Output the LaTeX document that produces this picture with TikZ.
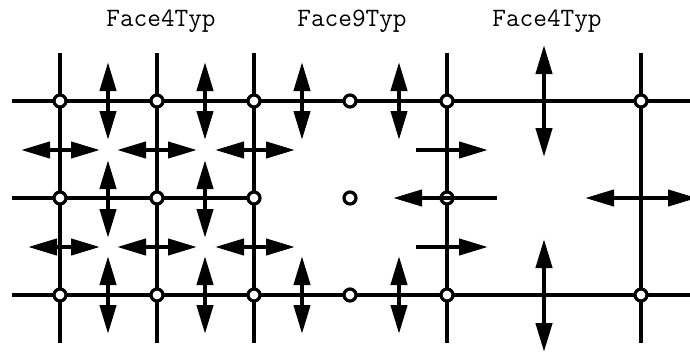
\documentclass[tikz,border=0pt]{standalone}
\usetikzlibrary{arrows.meta}
\begin{document}
\begin{tikzpicture}[x=1pt,y=-1pt,
  grid/.style={line width=4.2pt},
  pt/.style={circle,draw,fill=white,line width=3.2pt,minimum size=12pt,inner sep=0pt},
  tip/.tip={Triangle[length=29pt,width=16pt]},
  dbl/.style={line width=4.2pt,tip-tip},
  sgl/.style={line width=4.2pt,-tip},
  lbl/.style={font=\ttfamily\fontsize{26.5}{30}\selectfont,anchor=base,inner sep=0pt}]
\useasboundingbox (0,0) rectangle (690,353);
% labels
\node[lbl] (t1) at (161,27) {Face4Typ};
\node[lbl] (t2) at (352,27) {Face9Typ};
\node[lbl] (t3) at (547,27) {Face4Typ};
% grid line ends
\coordinate (w1) at (12,101); \coordinate (e1) at (690,101);
\coordinate (w2) at (12,198); \coordinate (e2) at (254,198);
\coordinate (w3) at (12,295); \coordinate (e3) at (690,295);
\foreach \x [count=\i] in {60,157,254,447,641}{
  \coordinate (n\i) at (\x,53); \coordinate (s\i) at (\x,343);
}
\draw[grid] (w1) -- (e1);
\draw[grid] (w2) -- (e2);
\draw[grid] (w3) -- (e3);
\foreach \i in {1,...,5}{ \draw[grid] (n\i) -- (s\i); }
% circles
\foreach \x [count=\i] in {60,157,254,350,447,641}{
  \node[pt] (a\i) at (\x,101) {};
  \node[pt] (c\i) at (\x,295) {};
}
\foreach \x [count=\i] in {60,157,254,350,447}{
  \node[pt] (b\i) at (\x,198) {};
}
% vertical double arrows
\foreach \x in {108,205,302,399}{
  \draw[dbl] (\x,62) -- (\x,140);
  \draw[dbl] (\x,256) -- (\x,334);
}
\foreach \x in {108,205}{ \draw[dbl] (\x,160) -- (\x,238); }
\draw[dbl] (544,45) -- (544,157);
\draw[dbl] (544,239) -- (544,352);
% horizontal double arrows
\draw[dbl] (21,150) -- (100,150);
\draw[dbl] (117,150) -- (197,150);
\draw[dbl] (215,150) -- (295,150);
\draw[dbl] (28,247) -- (100,247);
\draw[dbl] (117,247) -- (197,247);
\draw[dbl] (215,247) -- (295,247);
% right part
\draw[sgl] (416,150) -- (488,150);
\draw[sgl] (416,247) -- (488,247);
\draw[sgl] (497,198) -- (393,198);
\draw[dbl] (585,198) -- (697,198);
\end{tikzpicture}
\end{document}
